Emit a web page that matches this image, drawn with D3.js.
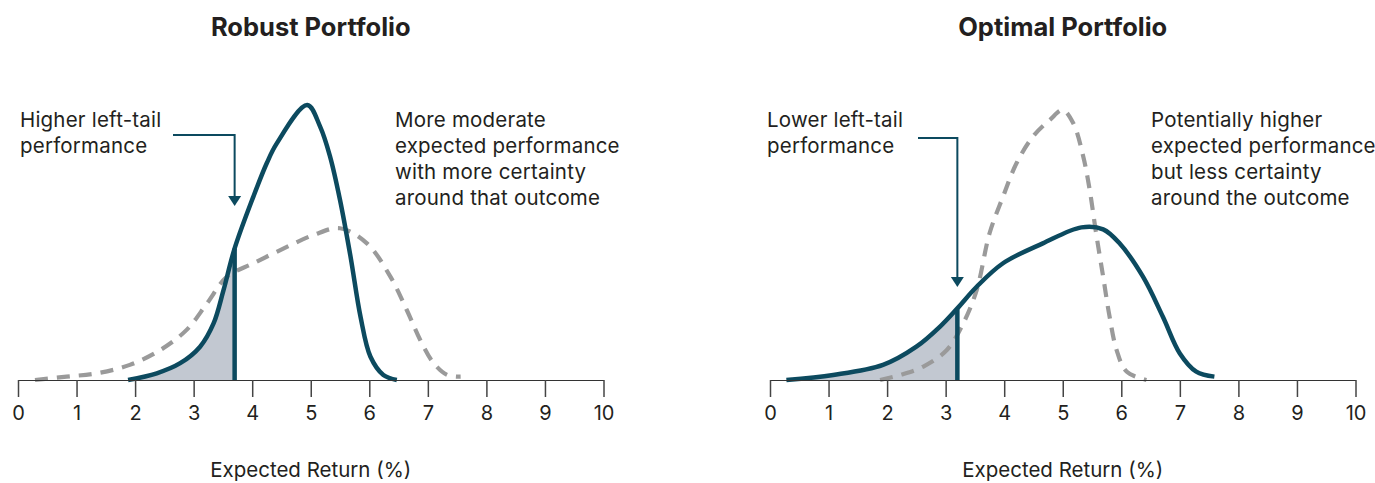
<!DOCTYPE html>
<html>
<head>
<meta charset="utf-8">
<script src="https://cdn.jsdelivr.net/npm/d3@7"></script>
<style>
  body { margin: 0; background: #fff; }
  text { font-family: Inter, "Noto Sans", sans-serif; fill: #231f20; }
</style>
</head>
<body>
<svg id="chart" width="1375" height="483"></svg>
<script>
// ---- data ----
var xTicks = [0, 1, 2, 3, 4, 5, 6, 7, 8, 9, 10];
var titles = ["Robust Portfolio", "Optimal Portfolio"];
var axisTitle = "Expected Return (%)";
var cutoffs = [3.7, 3.2];   // left-tail boundary, % return
var tailNotes = [["Higher left-tail", "performance"], ["Lower left-tail", "performance"]];
var outcomeNotes = [
    ["More moderate", "expected performance", "with more certainty", "around that outcome"],
    ["Potentially higher", "expected performance", "but less certainty", "around the outcome"]
];

// relative density, [return %, height]
var robustSolid = [[1.88, 0], [2.37, 0.024], [2.77, 0.06], [3.11, 0.119], [3.34, 0.202], [3.51, 0.321],
    [3.7, 0.47], [4.02, 0.655], [4.25, 0.775], [4.42, 0.845], [4.94, 0.982],
    [5.16, 0.905], [5.33, 0.798], [5.5, 0.643], [5.68, 0.44], [5.85, 0.226], [6.02, 0.083],
    [6.24, 0.018], [6.47, 0]];
var robustDashed = [[0.29, 0], [0.83, 0.012], [1.35, 0.024], [1.91, 0.054], [2.43, 0.107], [2.88, 0.179],
    [3.23, 0.274], [3.57, 0.369], [4.02, 0.417], [4.54, 0.47], [5.05, 0.518], [5.5, 0.542],
    [5.96, 0.488], [6.36, 0.369], [6.64, 0.25], [6.87, 0.143], [7.1, 0.06], [7.33, 0.018], [7.56, 0.012]];
var optimalSolid = [[0.28, 0], [1.08, 0.018], [1.93, 0.054], [2.5, 0.119], [2.9, 0.19], [3.2, 0.256],
    [3.53, 0.333], [3.98, 0.417], [4.66, 0.488], [5.32, 0.545], [5.69, 0.538], [5.97, 0.488],
    [6.37, 0.369], [6.71, 0.226], [7.0, 0.095], [7.28, 0.03], [7.59, 0.012]];
var optimalDashed = [[1.88, 0], [2.22, 0.018], [2.62, 0.048], [3.02, 0.107], [3.3, 0.202], [3.53, 0.321],
    [3.75, 0.524], [3.98, 0.655], [4.21, 0.774], [4.49, 0.869], [4.78, 0.929], [5.0, 0.964],
    [5.18, 0.917], [5.35, 0.798], [5.46, 0.679], [5.57, 0.524], [5.69, 0.369], [5.8, 0.226],
    [5.92, 0.107], [6.09, 0.03], [6.43, 0]];

var solids = [robustSolid, optimalSolid];
var dashes = [robustDashed, optimalDashed];

// ---- layout ----
var navy = "#0c4a5f", grey = "#9a9a9a", shade = "#c2c8d1";
var panels = [
    {x0: 18,  noteX: 20,  outX: 395,  arrowX0: 173, arrowY: 135, tipY: 206},
    {x0: 770, noteX: 767, outX: 1151, arrowX0: 918, arrowY: 138, tipY: 287}
];
var pw = 585.5, axisY = 380;

var svg = d3.select("#chart");
var y = d3.scaleLinear().domain([0, 1]).range([axisY, 100]);

panels.forEach(function(p, i) {
    var x = d3.scaleLinear().domain([0, 10]).range([p.x0, p.x0 + pw]);
    var g = svg.append("g").attr("class", "panel" + i);

    var line = d3.line()
        .x(function(d) { return x(d[0]); })
        .y(function(d) { return y(d[1]); })
        .curve(d3.curveCatmullRom.alpha(0.5));
    var area = d3.area()
        .x(function(d) { return x(d[0]); })
        .y0(axisY)
        .y1(function(d) { return y(d[1]); })
        .curve(d3.curveCatmullRom.alpha(0.5));

    // shaded left tail
    g.append("clipPath").attr("id", "tail" + i)
        .append("rect")
        .attr("x", p.x0).attr("y", 0)
        .attr("width", x(cutoffs[i]) - p.x0).attr("height", axisY);
    g.append("path")
        .datum(solids[i])
        .attr("d", area)
        .attr("fill", shade)
        .attr("clip-path", "url(#tail" + i + ")");

    g.append("path")
        .datum(dashes[i])
        .attr("d", line)
        .attr("fill", "none")
        .attr("stroke", grey)
        .attr("stroke-width", 4.2)
        .attr("stroke-dasharray", "13,9");

    g.append("path")
        .datum(solids[i])
        .attr("d", line)
        .attr("fill", "none")
        .attr("stroke", navy)
        .attr("stroke-width", 4.5)
        .attr("stroke-linejoin", "round");

    // height of solid curve at the cutoff
    var s = solids[i];
    var k = d3.bisector(function(d) { return d[0]; }).left(s, cutoffs[i]);
    var a = s[Math.max(k - 1, 0)], b = s[k];
    var hc = b[0] === cutoffs[i] ? b[1] : a[1] + (b[1] - a[1]) * (cutoffs[i] - a[0]) / (b[0] - a[0]);
    g.append("line")
        .attr("x1", x(cutoffs[i])).attr("x2", x(cutoffs[i]))
        .attr("y1", axisY).attr("y2", y(hc))
        .attr("stroke", navy)
        .attr("stroke-width", 4.5);

    // axis
    var ax = g.append("g")
        .attr("transform", "translate(0," + axisY + ")")
        .call(d3.axisBottom(x).tickValues(xTicks).tickSize(17).tickSizeOuter(0).tickPadding(9));
    ax.attr("font-family", null).attr("font-size", null);
    ax.select(".domain").attr("stroke", "#333").attr("stroke-width", 1.2);
    ax.selectAll(".tick line").attr("stroke", "#444").attr("stroke-width", 1.5);
    ax.selectAll(".tick text").attr("fill", "#231f20").style("font-size", "20px");

    g.append("text")
        .attr("x", x(5)).attr("y", 477)
        .attr("text-anchor", "middle")
        .style("font-size", "20.5px")
        .text(axisTitle);

    g.append("text")
        .attr("x", x(5)).attr("y", 36)
        .attr("text-anchor", "middle")
        .style("font-size", "25.5px")
        .style("font-weight", "bold")
        .text(titles[i]);

    // annotations
    g.selectAll(".tailNote").data(tailNotes[i]).enter().append("text")
        .attr("class", "tailNote")
        .attr("x", p.noteX)
        .attr("y", function(d, j) { return 127 + j * 26; })
        .style("font-size", "20.5px")
        .style("letter-spacing", "0.2px")
        .text(function(d) { return d; });
    g.selectAll(".outNote").data(outcomeNotes[i]).enter().append("text")
        .attr("class", "outNote")
        .attr("x", p.outX)
        .attr("y", function(d, j) { return 127 + j * 26; })
        .style("font-size", "20.5px")
        .style("letter-spacing", "0.2px")
        .text(function(d) { return d; });

    // arrow to the cutoff
    var axx = x(cutoffs[i]);
    g.append("path")
        .attr("d", "M" + p.arrowX0 + "," + p.arrowY + "H" + axx + "V" + (p.tipY - 8))
        .attr("fill", "none")
        .attr("stroke", navy)
        .attr("stroke-width", 2);
    g.append("path")
        .attr("d", "M" + (axx - 6.5) + "," + (p.tipY - 10) + "L" + (axx + 6.5) + "," + (p.tipY - 10) + "L" + axx + "," + p.tipY + "Z")
        .attr("fill", navy);
});
</script>
</body>
</html>
